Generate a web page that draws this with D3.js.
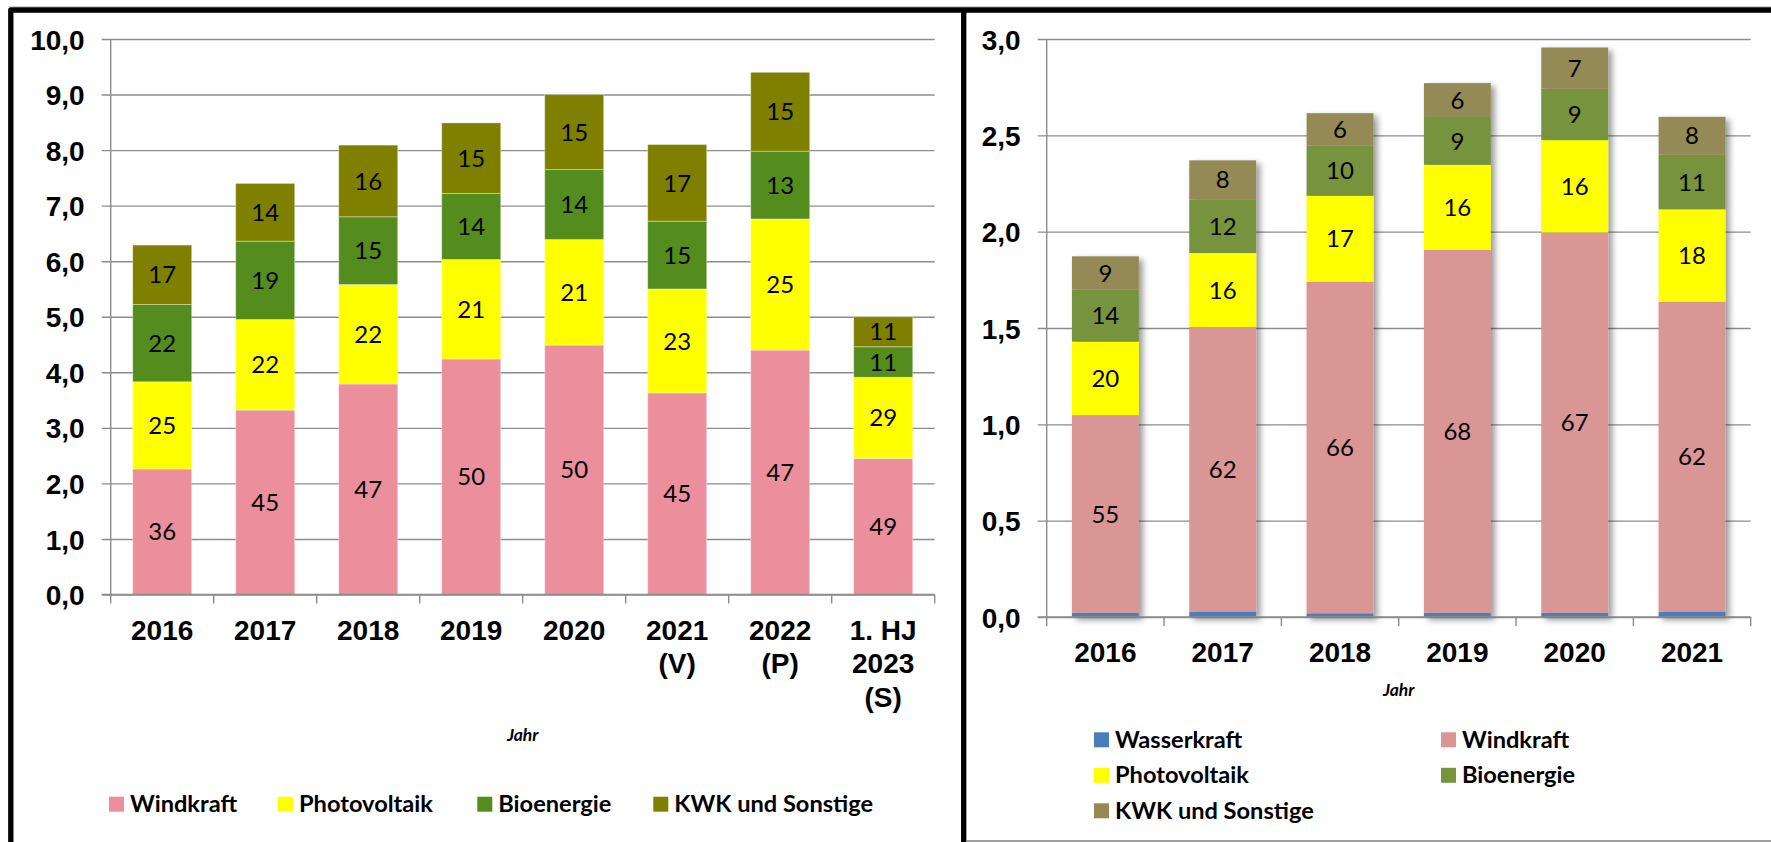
<!DOCTYPE html>
<html>
<head>
<meta charset="utf-8">
<script src="https://cdn.jsdelivr.net/npm/d3@7"></script>
<style>
    body { margin: 0; background: #fff; }
    svg { display: block; }
    .tick-label { font-family: "Liberation Sans", Arial, sans-serif; font-weight: bold; font-size: 28px; fill: #000; }
    .val { font-family: Lato, sans-serif; font-size: 24px; fill: #000; }
    .leg { font-family: Lato, sans-serif; font-weight: bold; font-size: 23.6px; fill: #000; }
    .ax-title { font-family: Lato, sans-serif; font-weight: bold; font-style: italic; font-size: 17.5px; fill: #000; }
</style>
</head>
<body>
<div id="chart"></div>
<script>
// ---- left chart: 8 periods, TWh per source, labels = share in %
const leftYears = ['2016', '2017', '2018', '2019', '2020', '2021\n(V)', '2022\n(P)', '1. HJ\n2023\n(S)'];
const leftWind = [2.26, 3.32, 3.79, 4.24, 4.49, 3.63, 4.40, 2.45];
const leftPV   = [1.57, 1.63, 1.79, 1.79, 1.90, 1.87, 2.36, 1.46];
const leftBio  = [1.39, 1.41, 1.22, 1.19, 1.26, 1.22, 1.22, 0.55];
const leftKwk  = [1.07, 1.04, 1.29, 1.27, 1.35, 1.38, 1.42, 0.54];
const leftWindPct = [36, 45, 47, 50, 50, 45, 47, 49];
const leftPVPct   = [25, 22, 22, 21, 21, 23, 25, 29];
const leftBioPct  = [22, 19, 15, 14, 14, 15, 13, 11];
const leftKwkPct  = [17, 14, 16, 15, 15, 17, 15, 11];
const leftTicks = [0, 1, 2, 3, 4, 5, 6, 7, 8, 9, 10];

// ---- right chart: 6 years
const rightYears = ['2016', '2017', '2018', '2019', '2020', '2021'];
const rightWasser = [0.022, 0.028, 0.019, 0.022, 0.022, 0.028];
const rightWind   = [1.026, 1.477, 1.721, 1.883, 1.974, 1.608];
const rightPV     = [0.381, 0.384, 0.446, 0.442, 0.479, 0.480];
const rightBio    = [0.270, 0.279, 0.260, 0.248, 0.267, 0.283];
const rightKwk    = [0.173, 0.202, 0.169, 0.176, 0.214, 0.197];
const rightWindPct = [55, 62, 66, 68, 67, 62];
const rightPVPct   = [20, 16, 17, 16, 16, 18];
const rightBioPct  = [14, 12, 10, 9, 9, 11];
const rightKwkPct  = [9, 8, 6, 6, 7, 8];
const rightTicks = [0, 0.5, 1, 1.5, 2, 2.5, 3];

const W = 1771, H = 842;
const fmt = v => d3.format('.1f')(v).replace('.', ',');

const svg = d3.select('#chart').append('svg')
    .attr('width', W)
    .attr('height', H);

const defs = svg.append('defs');
defs.append('filter')
    .attr('id', 'bar-shadow')
    .attr('x', '-20%').attr('y', '-10%').attr('width', '160%').attr('height', '130%')
    .append('feDropShadow')
    .attr('dx', 4).attr('dy', 3)
    .attr('stdDeviation', 3)
    .attr('flood-color', '#000')
    .attr('flood-opacity', 0.4);

// frame lines
svg.append('line')
    .attr('x1', 8).attr('x2', W).attr('y1', 6.5).attr('y2', 6.5)
    .attr('stroke', '#cfcfcf').attr('stroke-width', 1);
svg.append('path')
    .attr('d', `M10.8,${H} V10 H${W}`)
    .attr('fill', 'none').attr('stroke', '#000').attr('stroke-width', 5.3)
    .attr('stroke-linejoin', 'round');
svg.append('line')
    .attr('x1', 963.7).attr('x2', 963.7).attr('y1', 10).attr('y2', H)
    .attr('stroke', '#000').attr('stroke-width', 5.3);
svg.append('line')
    .attr('x1', 966).attr('x2', W).attr('y1', 841).attr('y2', 841)
    .attr('stroke', '#7f7f7f').attr('stroke-width', 1.5);

function drawPanel(cfg) {
    const g = svg.append('g');

    const y = d3.scaleLinear()
        .domain([0, d3.max(cfg.ticks)])
        .range([cfg.y0, cfg.yTop]);

    const x = d3.scaleBand()
        .domain(cfg.categories)
        .range([cfg.x0, cfg.x1])
        .paddingInner(cfg.pad)
        .paddingOuter(cfg.pad / 2);

    // gridlines + y labels
    const yAxis = d3.axisLeft(y)
        .tickValues(cfg.ticks)
        .tickSize(-(cfg.x1 - cfg.x0 + 9))
        .tickPadding(cfg.labelPad)
        .tickFormat(fmt);

    const ya = g.append('g')
        .attr('transform', `translate(${cfg.x0 - 9},0)`)
        .call(yAxis);
    ya.select('.domain').remove();
    ya.selectAll('.tick line')
        .attr('stroke', '#8c8c8c')
        .attr('stroke-width', 1.4);
    ya.selectAll('.tick text')
        .attr('class', 'tick-label')
        .attr('dy', '0.36em')
        .attr('font-size', null)
        .attr('font-family', null);

    // bars
    const rows = cfg.categories.map((c, i) => {
        const r = { cat: c };
        cfg.series.forEach(s => { r[s.key] = s.values[i]; });
        return r;
    });
    const stacked = d3.stack().keys(cfg.series.map(s => s.key))(rows);

    const barGroups = g.selectAll('.bar')
        .data(cfg.categories)
        .join('g')
        .attr('class', 'bar')
        .attr('filter', cfg.shadow ? 'url(#bar-shadow)' : null);

    barGroups.each(function (cat, i) {
        const bg = d3.select(this);
        stacked.forEach((layer, li) => {
            const d = layer[i];
            bg.append('rect')
                .attr('x', x(cat))
                .attr('width', x.bandwidth())
                .attr('y', y(d[1]))
                .attr('height', y(d[0]) - y(d[1]))
                .attr('fill', cfg.series[li].color)
                .attr('stroke', cfg.shadow ? 'none' : 'rgba(255,255,255,0.35)')
                .attr('stroke-width', 1);
        });
    });

    // value labels
    stacked.forEach((layer, li) => {
        const s = cfg.series[li];
        if (!s.labels) return;
        g.selectAll(null)
            .data(layer)
            .join('text')
            .attr('class', 'val')
            .attr('text-anchor', 'middle')
            .attr('x', (d, i) => x(cfg.categories[i]) + x.bandwidth() / 2)
            .attr('y', d => (y(d[0]) + y(d[1])) / 2)
            .attr('dy', '0.36em')
            .text((d, i) => s.labels[i]);
    });

    // y axis line + x axis line
    g.append('line')
        .attr('x1', cfg.x0).attr('x2', cfg.x0)
        .attr('y1', cfg.yTop).attr('y2', cfg.y0)
        .attr('stroke', '#8c8c8c').attr('stroke-width', 1.4);
    g.append('line')
        .attr('x1', cfg.x0 - 9).attr('x2', cfg.x1)
        .attr('y1', cfg.y0).attr('y2', cfg.y0)
        .attr('stroke', '#8c8c8c').attr('stroke-width', 1.4);

    // category ticks at band edges
    const edges = cfg.categories.map(c => x(c) - x.step() * cfg.pad / 2).concat([cfg.x1]);
    g.selectAll(null)
        .data(edges)
        .join('line')
        .attr('x1', d => d).attr('x2', d => d)
        .attr('y1', cfg.y0).attr('y2', cfg.y0 + 9)
        .attr('stroke', '#8c8c8c').attr('stroke-width', 1.4);

    // category labels (multi-line)
    const xl = g.selectAll(null)
        .data(cfg.categories)
        .join('text')
        .attr('class', 'tick-label')
        .attr('text-anchor', 'middle')
        .attr('x', d => x(d) + x.bandwidth() / 2)
        .attr('y', cfg.xLabelY);
    xl.selectAll('tspan')
        .data(d => d.split('\n'))
        .join('tspan')
        .attr('x', function () { return d3.select(this.parentNode).attr('x'); })
        .attr('dy', (d, i) => i === 0 ? 0 : cfg.lineHeight)
        .text(d => d);

    // axis title
    g.append('text')
        .attr('class', 'ax-title')
        .attr('text-anchor', 'middle')
        .attr('x', (cfg.x0 + cfg.x1) / 2)
        .attr('y', cfg.titleY)
        .text('Jahr');

    // legend
    const leg = g.selectAll('.legend-item')
        .data(cfg.legend)
        .join('g')
        .attr('class', 'legend-item')
        .attr('transform', d => `translate(${d.x},${d.y})`);
    leg.append('rect')
        .attr('width', 15).attr('height', 15)
        .attr('fill', d => cfg.series.find(s => s.name === d.name).color);
    leg.append('text')
        .attr('class', 'leg')
        .attr('x', 21)
        .attr('y', 15.5)
        .text(d => d.name);
}

drawPanel({
    x0: 110.7, x1: 934.7, y0: 594.5, yTop: 39,
    pad: 0.427, labelPad: 17,
    ticks: leftTicks,
    categories: leftYears,
    shadow: false,
    xLabelY: 640, lineHeight: 33.3, titleY: 741,
    series: [
        { key: 'wind', name: 'Windkraft', values: leftWind, labels: leftWindPct, color: '#EC8F9C' },
        { key: 'pv', name: 'Photovoltaik', values: leftPV, labels: leftPVPct, color: '#FFFF00' },
        { key: 'bio', name: 'Bioenergie', values: leftBio, labels: leftBioPct, color: '#548C1E' },
        { key: 'kwk', name: 'KWK und Sonstige', values: leftKwk, labels: leftKwkPct, color: '#808000' }
    ],
    legend: [
        { name: 'Windkraft', x: 109, y: 796.7 },
        { name: 'Photovoltaik', x: 278, y: 796.7 },
        { name: 'Bioenergie', x: 477.3, y: 796.7 },
        { name: 'KWK und Sonstige', x: 653.3, y: 796.7 }
    ]
});

drawPanel({
    x0: 1046.7, x1: 1750.7, y0: 617, yTop: 39,
    pad: 0.43, labelPad: 17,
    ticks: rightTicks,
    categories: rightYears,
    shadow: true,
    xLabelY: 662, lineHeight: 33.3, titleY: 695.5,
    series: [
        { key: 'wasser', name: 'Wasserkraft', values: rightWasser, labels: null, color: '#4A7EBB' },
        { key: 'wind', name: 'Windkraft', values: rightWind, labels: rightWindPct, color: '#D99694' },
        { key: 'pv', name: 'Photovoltaik', values: rightPV, labels: rightPVPct, color: '#FFFF00' },
        { key: 'bio', name: 'Bioenergie', values: rightBio, labels: rightBioPct, color: '#77933C' },
        { key: 'kwk', name: 'KWK und Sonstige', values: rightKwk, labels: rightKwkPct, color: '#948A54' }
    ],
    legend: [
        { name: 'Wasserkraft', x: 1094, y: 732.3 },
        { name: 'Windkraft', x: 1441, y: 732.3 },
        { name: 'Photovoltaik', x: 1094, y: 767.8 },
        { name: 'Bioenergie', x: 1441, y: 767.8 },
        { name: 'KWK und Sonstige', x: 1094, y: 803.3 }
    ]
});
</script>
</body>
</html>
